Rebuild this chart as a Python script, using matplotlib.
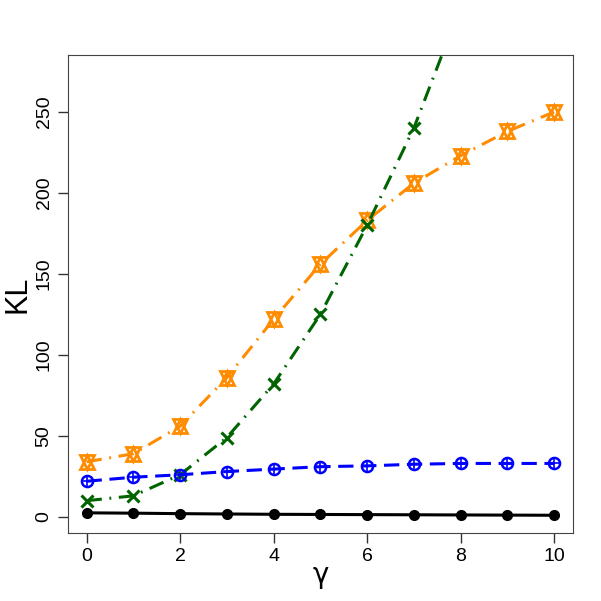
import numpy as np
import matplotlib
matplotlib.use('Agg')
from matplotlib import pyplot as plt

plt.rcParams['font.family'] = ['Liberation Sans', 'DejaVu Sans']

gamma = [0, 1, 2, 3, 4, 5, 6, 7, 8, 9, 10]
kl_black = [2.5, 2.3, 2.0, 1.8, 1.6, 1.5, 1.4, 1.3, 1.2, 1.1, 1.0]
kl_blue = [22, 24.5, 26, 28, 29.5, 31, 31.5, 32.5, 33, 33, 33]
kl_green = [10, 13, 26, 49, 82, 125, 180, 240, 315, 390, 460]
kl_orange = [34, 39, 56, 86, 122, 156, 183, 206, 223, 238, 250]

fig = plt.figure(figsize=(6.01, 6.01), dpi=100)
ax = fig.add_axes([0.113, 0.113, 0.84, 0.795])

ax.plot(gamma, kl_black, color='black', lw=2.2, marker='o', ms=7, zorder=5)
ax.plot(gamma, kl_blue, color='blue', lw=2.2, ls=(0, (5, 2.5)), marker='o', ms=8,
        mfc='none', mew=1.8, zorder=4)
ax.plot(gamma, kl_blue, color='blue', lw=0, marker='+', ms=8, mew=1.2, zorder=4)
ax.plot(gamma, kl_green, color='darkgreen', lw=2.2, ls=(0, (5, 2.5, 0.6, 2.5)),
        marker='x', ms=9, mew=2.2, zorder=3)
ax.plot(gamma, kl_orange, color='darkorange', lw=2.2, ls=(0, (5, 2.5, 0.6, 2.5)),
        marker='^', ms=10, mfc='none', mew=2, zorder=2)
ax.plot(gamma, kl_orange, color='darkorange', lw=0, marker='v', ms=10,
        mfc='none', mew=2, zorder=2)

ax.set_xlim(-0.4, 10.4)
ax.set_ylim(-10, 285)
ax.set_xticks([0, 2, 4, 6, 8, 10])
ax.set_yticks([0, 50, 100, 150, 200, 250])
ax.tick_params(direction='out', length=7, width=1, labelsize=14, colors='#333333',
               labelcolor='black', pad=4)
plt.setp(ax.get_yticklabels(), rotation=90, va='center')
for s in ax.spines.values():
    s.set_color('#444444')
ax.set_xlabel('γ', fontsize=20, labelpad=-3, family='DejaVu Sans')
ax.set_ylabel('KL', fontsize=22, labelpad=2)

fig.savefig('out.png', dpi=100)
